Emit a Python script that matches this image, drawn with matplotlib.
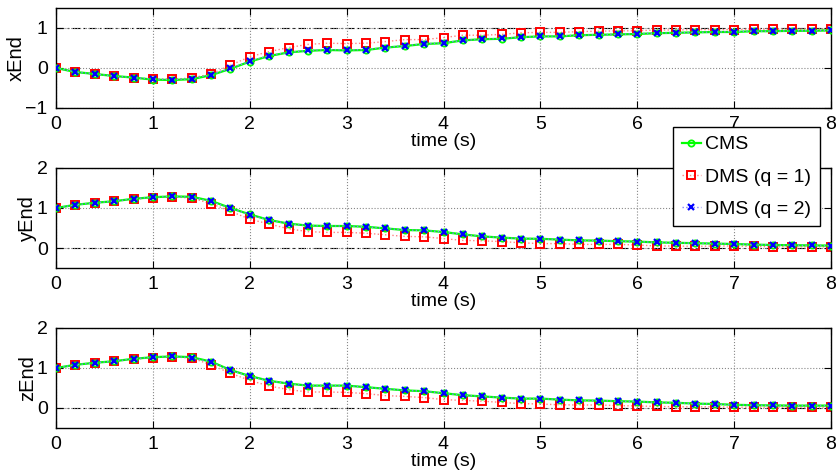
import numpy as np
import matplotlib
matplotlib.use("Agg")
import matplotlib.pyplot as plt
from matplotlib.ticker import MultipleLocator

plt.rcParams['font.family'] = ['Liberation Sans', 'DejaVu Sans']

t = np.round(np.arange(0, 8.01, 0.2), 1)

x_cms = [0.0, -0.1, -0.15, -0.2, -0.24, -0.29, -0.3, -0.28, -0.18, -0.02,
         0.16, 0.3, 0.39, 0.43, 0.45, 0.44, 0.45, 0.51, 0.55, 0.6,
         0.62, 0.69, 0.72, 0.73, 0.77, 0.79, 0.79, 0.82, 0.83, 0.84,
         0.85, 0.87, 0.88, 0.89, 0.9, 0.9, 0.92, 0.92, 0.93, 0.93, 0.94]
x_dms1 = [0.0, -0.1, -0.15, -0.2, -0.25, -0.28, -0.28, -0.25, -0.15, 0.07,
          0.28, 0.41, 0.51, 0.59, 0.62, 0.61, 0.62, 0.66, 0.71, 0.71,
          0.76, 0.82, 0.82, 0.84, 0.88, 0.89, 0.89, 0.91, 0.92, 0.93,
          0.93, 0.95, 0.95, 0.96, 0.96, 0.96, 0.97, 0.97, 0.97, 0.97, 0.97]
x_dms2 = [0.0, -0.1, -0.15, -0.2, -0.24, -0.28, -0.29, -0.27, -0.17, -0.01,
          0.17, 0.31, 0.39, 0.44, 0.46, 0.45, 0.46, 0.51, 0.56, 0.6,
          0.63, 0.69, 0.72, 0.74, 0.77, 0.79, 0.8, 0.82, 0.83, 0.84,
          0.86, 0.87, 0.88, 0.89, 0.9, 0.91, 0.92, 0.92, 0.93, 0.93, 0.94]

y_cms = [1.0, 1.08, 1.13, 1.17, 1.23, 1.27, 1.29, 1.28, 1.18, 1.0,
         0.84, 0.7, 0.61, 0.56, 0.55, 0.55, 0.53, 0.49, 0.45, 0.44,
         0.4, 0.34, 0.29, 0.26, 0.235, 0.23, 0.21, 0.19, 0.185, 0.17,
         0.16, 0.14, 0.13, 0.12, 0.11, 0.1, 0.085, 0.075, 0.07, 0.065, 0.06]
y_dms1 = [1.0, 1.08, 1.13, 1.17, 1.22, 1.26, 1.28, 1.25, 1.11, 0.92,
          0.72, 0.6, 0.48, 0.41, 0.39, 0.39, 0.37, 0.33, 0.29, 0.28,
          0.235, 0.19, 0.18, 0.16, 0.13, 0.11, 0.11, 0.09, 0.09, 0.09,
          0.075, 0.05, 0.05, 0.04, 0.05, 0.05, 0.04, 0.03, 0.03, 0.03, 0.03]
y_dms2 = [1.0, 1.08, 1.13, 1.17, 1.23, 1.27, 1.29, 1.27, 1.17, 0.99,
          0.83, 0.7, 0.61, 0.56, 0.55, 0.55, 0.53, 0.49, 0.45, 0.44,
          0.4, 0.34, 0.29, 0.26, 0.235, 0.23, 0.21, 0.19, 0.185, 0.17,
          0.16, 0.14, 0.13, 0.12, 0.11, 0.1, 0.085, 0.075, 0.07, 0.065, 0.06]

z_cms = [1.0, 1.08, 1.13, 1.17, 1.23, 1.27, 1.29, 1.27, 1.16, 0.95,
         0.8, 0.68, 0.61, 0.56, 0.56, 0.56, 0.52, 0.48, 0.44, 0.42,
         0.37, 0.32, 0.29, 0.26, 0.235, 0.235, 0.21, 0.19, 0.185, 0.17,
         0.16, 0.14, 0.13, 0.11, 0.1, 0.08, 0.07, 0.065, 0.06, 0.06, 0.06]
z_dms1 = [1.0, 1.08, 1.13, 1.17, 1.22, 1.26, 1.28, 1.25, 1.08, 0.87,
          0.69, 0.55, 0.46, 0.4, 0.4, 0.39, 0.36, 0.31, 0.29, 0.26,
          0.21, 0.19, 0.17, 0.14, 0.11, 0.1, 0.08, 0.075, 0.075, 0.06,
          0.05, 0.04, 0.03, 0.03, 0.03, 0.02, 0.02, 0.02, 0.02, 0.02, 0.02]
z_dms2 = [1.0, 1.08, 1.13, 1.17, 1.23, 1.27, 1.29, 1.26, 1.15, 0.95,
          0.79, 0.68, 0.61, 0.56, 0.56, 0.56, 0.52, 0.48, 0.44, 0.42,
          0.37, 0.32, 0.29, 0.26, 0.235, 0.235, 0.21, 0.19, 0.185, 0.17,
          0.16, 0.14, 0.13, 0.11, 0.1, 0.08, 0.07, 0.065, 0.06, 0.06, 0.06]

ylabels = ['xEnd', 'yEnd', 'zEnd']
ylims = [(-1, 1.5), (-0.5, 2), (-0.5, 2)]
yticks = [[-1, 0, 1], [0, 1, 2], [0, 1, 2]]
refs = [1, 0, 0]
series = [(x_cms, x_dms1, x_dms2), (y_cms, y_dms1, y_dms2), (z_cms, z_dms1, z_dms2)]

W, H = 836, 472
fig = plt.figure(figsize=(W / 100, H / 100), dpi=100)
tops = [8, 168, 328]
left, right, height = 56, 831, 100

handles = None
for i in range(3):
    ax = fig.add_axes([left / W, 1 - (tops[i] + height) / H, (right - left) / W, height / H])
    c, d1, d2 = series[i]
    ax.axhline(refs[i], color='black', linestyle='-.', linewidth=0.8, dashes=(7, 3, 1.5, 3), zorder=1)
    h1, = ax.plot(t, c, color='#00ff00', linestyle='-', linewidth=1.6, marker='o',
                  markersize=4.5, markerfacecolor='none', markeredgewidth=1.3, label='CMS', zorder=3)
    h2, = ax.plot(t, d1, color='#ff8080', linestyle=':', linewidth=1.0, marker='s',
                  markersize=6, markerfacecolor='none', markeredgecolor='#ff0000',
                  markeredgewidth=1.4, label='DMS (q = 1)', zorder=2)
    h3, = ax.plot(t, d2, color='#8080ff', linestyle=':', linewidth=1.0, marker='x',
                  markersize=4.5, markeredgecolor='#0000ff', markeredgewidth=1.6,
                  label='DMS (q = 2)', zorder=4)
    handles = [h1, h2, h3]
    ax.set_xlim(0, 8)
    ax.set_ylim(*ylims[i])
    ax.set_yticks(yticks[i])
    ax.xaxis.set_major_locator(MultipleLocator(1))
    ax.grid(True, color='#888888', linestyle=':', linewidth=0.8)
    ax.tick_params(direction='in', top=True, right=True, labelsize=14, length=5, pad=6)
    for s in ax.spines.values():
        s.set_linewidth(1.0)
    ax.set_ylabel(ylabels[i], fontsize=14.5, labelpad=0)
    ax.set_xlabel('time (s)', fontsize=14, labelpad=0)
    ax.set_yticklabels([('\u2212' + str(abs(v))) if v < 0 else str(v) for v in yticks[i]])

leg = fig.legend(handles=handles, loc='upper left',
                 bbox_to_anchor=(673 / W, 1 - 127 / H), fontsize=14,
                 frameon=True, fancybox=False, edgecolor='black', framealpha=1,
                 handlelength=1.0, handletextpad=0.2, borderpad=0.45, labelspacing=0.75,
                 borderaxespad=0)
leg.get_frame().set_linewidth(1.0)

fig.savefig('out.png', dpi=100)
